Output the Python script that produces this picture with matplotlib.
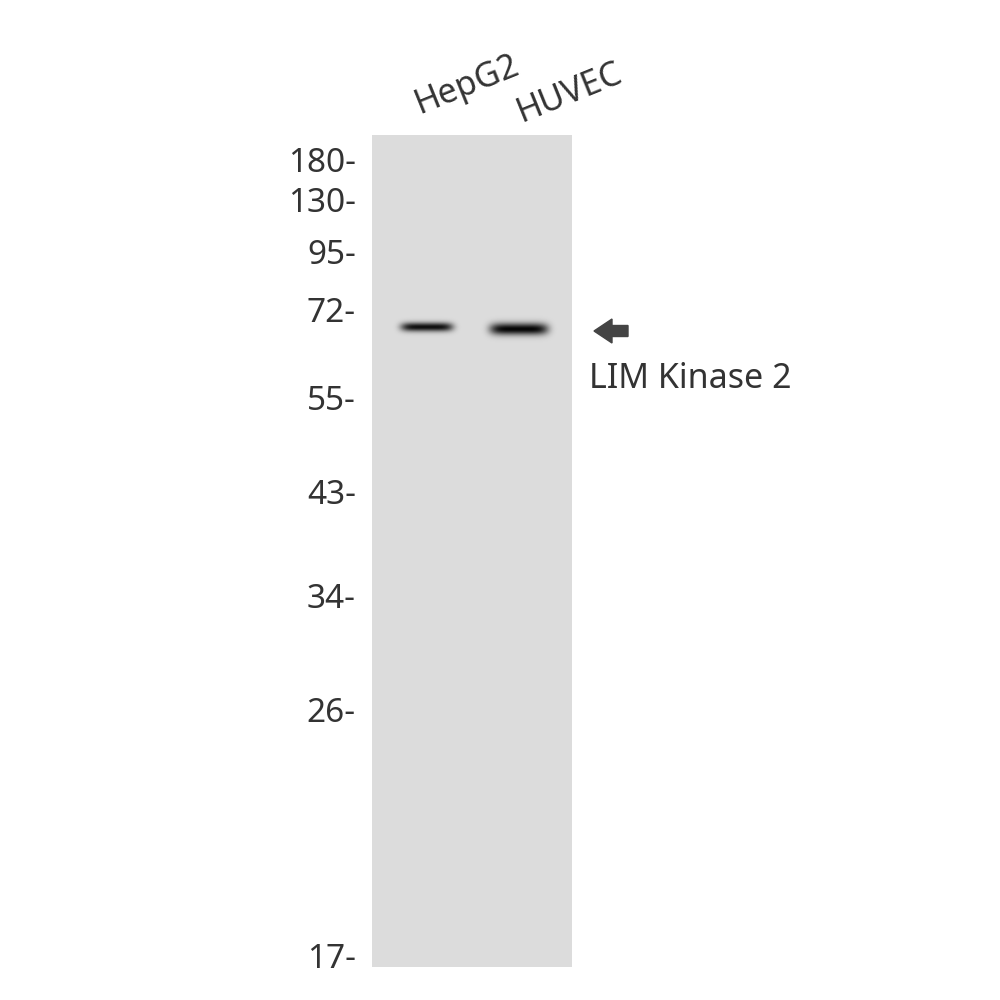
import numpy as np
import matplotlib
matplotlib.use("Agg")
import matplotlib.pyplot as plt
from matplotlib.patches import Polygon

plt.rcParams["font.family"] = ["Noto Sans", "DejaVu Sans"]

# ── data ────────────────────────────────────────────────────────────────
marker_kda = ["180", "130", "95", "72", "55", "43", "34", "26", "17"]
marker_y = [160, 201, 253, 311, 399, 492, 596, 710, 956]   # migration (px)

lanes = ["HepG2", "HUVEC"]
lane_x = [427, 519]           # lane centres
band_y = [327, 329]           # band migration
band_width = [52, 58]         # band length along lane
band_thick = [3.2, 4.2]       # gaussian sigma (px)
band_depth = [205, 215]       # darkening (0-255)

target = "LIM Kinase 2"

# ── figure ──────────────────────────────────────────────────────────────
TXT = "#333333"
fig = plt.figure(figsize=(10, 10), dpi=100)
ax = fig.add_axes([0, 0, 1, 1])
ax.set_xlim(0, 1000)
ax.set_ylim(1000, 0)
ax.axis("off")

# gel image
gx0, gx1, gy0, gy1 = 372, 572, 135, 967
xs = np.arange(gx0, gx1) + 0.5
ys = np.arange(gy0, gy1) + 0.5
X, Y = np.meshgrid(xs, ys)
img = np.full(X.shape, 220.0)
for cx, cy, w, s, d in zip(lane_x, band_y, band_width, band_thick, band_depth):
    hx = np.exp(-np.abs((X - cx) / (w / 2)) ** 6)
    vy = np.exp(-0.5 * ((Y - cy) / s) ** 2)
    img -= d * hx * vy
img = np.clip(img, 0, 255) / 255.0
ax.imshow(img, cmap="gray", vmin=0, vmax=1, extent=(gx0, gx1, gy1, gy0),
          interpolation="bilinear", aspect="auto", zorder=1)

# molecular weight markers
for lbl, y in zip(marker_kda, marker_y):
    ax.text(356, y + 3, f"{lbl}-", ha="right", va="center", fontsize=24, color=TXT)

# lane labels (rotated, anchored at lower-left of first letter)
for name, x, y in zip(lanes, [420, 522], [114, 122]):
    ax.text(x, y, name, ha="left", va="baseline", rotation=22,
            rotation_mode="anchor", fontsize=24.5, color=TXT)

# arrow + target label
ay = np.mean(band_y) + 3
arrow = Polygon([[594, ay], [612, ay - 12], [612, ay - 5.5], [628, ay - 5.5],
                 [628, ay + 5.5], [612, ay + 5.5], [612, ay + 12]],
                closed=True, color="#444444", zorder=3)
ax.add_patch(arrow)
ax.text(589, 379, target, ha="left", va="center", fontsize=24.5, color=TXT)

fig.savefig("out.png", dpi=100, facecolor="white")
